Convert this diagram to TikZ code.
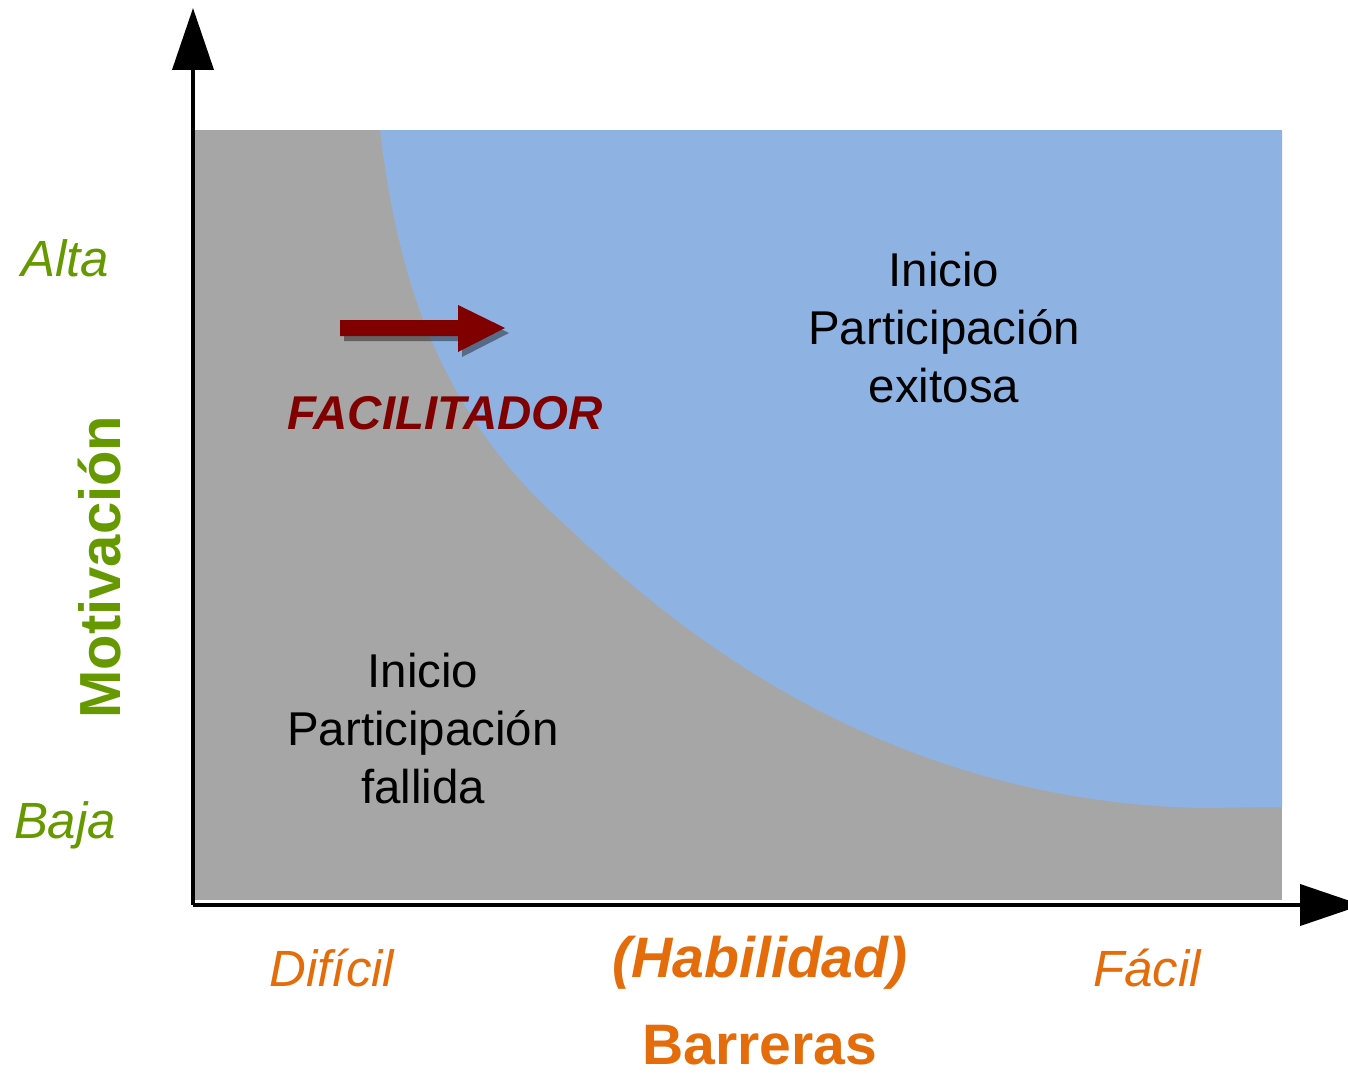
\documentclass[tikz,border=0pt]{standalone}
\usepackage{fontspec}
\setmainfont{Liberation Sans}
\usetikzlibrary{arrows.meta}

\definecolor{grisfondo}{HTML}{A6A6A6}
\definecolor{azulfondo}{HTML}{8EB3E2}
\definecolor{verdeeje}{HTML}{669900}
\definecolor{naranjaeje}{HTML}{E46C0A}
\definecolor{rojofac}{HTML}{800000}

\begin{document}
\begin{tikzpicture}[x=0.02cm, y=-0.02cm,
		eje/.style={line width=0.08cm, -{Triangle[length=1.24cm, width=0.82cm]}},
		nivel/.style={text=verdeeje, font=\itshape\fontsize{29}{35}\selectfont},
		dificultad/.style={text=naranjaeje, font=\itshape\fontsize{29}{35}\selectfont},
		zona/.style={align=center, font=\fontsize{27}{33}\selectfont}]
		\useasboundingbox (0,0) rectangle (1348,1078);
		% regiones
		\fill[grisfondo] (195,130) rectangle (1282,900);
		\fill[azulfondo] (380,130) -- (1282,130) -- (1282,807) -- (1200,808)
			.. controls (860,800) and (650,605) .. (560,520)
			.. controls (450,420) and (400,300) .. (380,130) -- cycle;
		% ejes
		\coordinate (origen) at (193,905);
		\coordinate (ytope) at (193,8);
		\coordinate (xfin) at (1362,905);
		\draw[eje] (origen) -- (ytope);
		\draw[eje] (origen) -- (xfin);
		% flecha del facilitador
		\fill[black, opacity=0.4, shift={(4,5)}] (340,320) -- (458,320) -- (458,305) -- (505,328) -- (458,352) -- (458,336) -- (340,336) -- cycle;
		\fill[rojofac] (340,320) -- (458,320) -- (458,305) -- (505,328) -- (458,352) -- (458,336) -- (340,336) -- cycle;
		% textos
		\node[zona] (exito) at (944,328) {Inicio\\Participación\\exitosa};
		\node[zona] (fallo) at (423,729) {Inicio\\Participación\\fallida};
		\node[text=rojofac, font=\bfseries\itshape\fontsize{27}{32}\selectfont] (facil) at (445,413) {FACILITADOR};
		\node[nivel] (alta) at (65,258) {Alta};
		\node[nivel] (baja) at (65,825) {Baja};
		\node[rotate=90, text=verdeeje, font=\bfseries\fontsize{33}{40}\selectfont] (motiv) at (100,567) {Motivación};
		\node[dificultad] (dificil) at (332,968) {Difícil};
		\node[dificultad] (facilx) at (1147,968) {Fácil};
		\node[text=naranjaeje, font=\bfseries\itshape\fontsize{32.5}{39}\selectfont] (habil) at (760,963) {(Habilidad)};
		\node[text=naranjaeje, font=\bfseries\fontsize{32.5}{39}\selectfont, anchor=base, inner sep=0pt] (barr) at (760,1064) {Barreras};
	\end{tikzpicture}
\end{document}
